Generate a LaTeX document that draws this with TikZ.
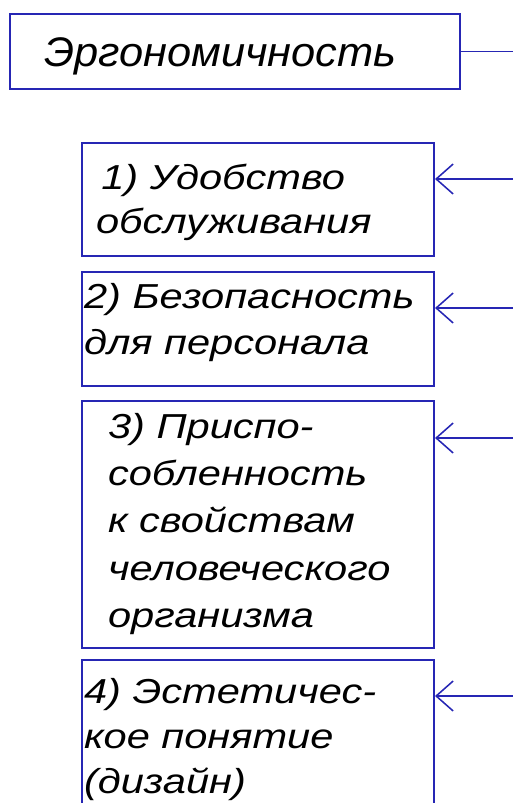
\documentclass[tikz,border=0pt]{standalone}
\usepackage{fontspec}
\usetikzlibrary{arrows.meta}
\newfontfamily\gostfont{Liberation Sans}[FakeStretch=1.2]
\newfontfamily\gosttitle{Liberation Sans}[FakeStretch=1.05]
\definecolor{frameblue}{RGB}{38,38,180}
\begin{document}
\begin{tikzpicture}[x=0.75pt,y=-0.75pt,
  box/.style={draw=frameblue, line width=1.5pt, rectangle, anchor=north west,
    inner ysep=0pt, align=left, text=black},
  lines/.style={font=\gostfont\itshape\fontsize{26pt}{#1}\selectfont},
  conn/.style={draw=frameblue, line width=1.15pt},
  arr/.style={conn, -{Straight Barb[length=12.75pt,width=22.5pt]}}]
\useasboundingbox (0,0) rectangle (513,803);
\clip (0,0) rectangle (513,803);
\fill[white] (0,0) rectangle (513,803);

\node[box, font=\gosttitle\itshape\fontsize{31pt}{36pt}\selectfont,
  inner xsep=25.5pt, text width=286.5pt, text height=39pt, text depth=17.25pt]
  (erg) at (9,13) {Эргономичность};

\node[box, lines=33pt, inner xsep=10.5pt, text width=243pt,
  text height=34.5pt, text depth=50.25pt]
  (b1) at (81,142) {\hspace*{4pt}1) Удобство\\обслуживания};

\node[box, lines=34.5pt, inner xsep=1.5pt, text width=261pt,
  text height=27pt, text depth=58.5pt]
  (b2) at (81,271) {2) Безопасность\\для персонала};

\node[box, lines=35.6pt, inner xsep=19.5pt, text width=225pt,
  text height=27.75pt, text depth=157.5pt]
  (b3) at (81,400) {3) Приспо-\\собленность\\к свойствам\\человеческого\\организма};

\node[box, lines=33.75pt, inner xsep=1.5pt, text width=261pt,
  text height=32.25pt, text depth=150pt]
  (b4) at (81,659) {4) Эстетичес-\\кое понятие\\(дизайн)};

\coordinate (e0) at (520,50);
\coordinate (e1) at (520,179);
\coordinate (e2) at (520,308);
\coordinate (e3) at (520,438);
\coordinate (e4) at (520,696);

\draw[conn] (erg.east) -- (erg.east -| e0);
\draw[arr] (e1) -- (e1 -| b1.east);
\draw[arr] (e2) -- (e2 -| b2.east);
\draw[arr] (e3) -- (e3 -| b3.east);
\draw[arr] (e4) -- (e4 -| b4.east);
\end{tikzpicture}
\end{document}
